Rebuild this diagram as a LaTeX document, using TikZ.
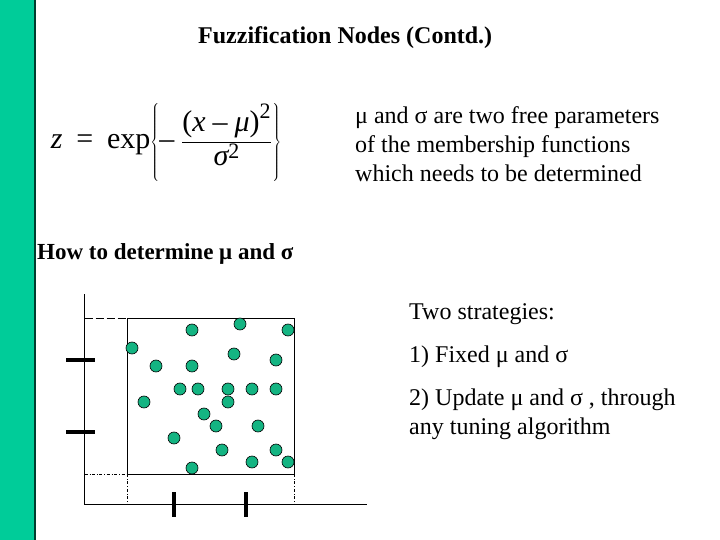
\documentclass[tikz,border=0pt]{standalone}
\usepackage{fontspec}
\setmainfont{Liberation Serif}
\definecolor{gr}{RGB}{0,204,153}
\definecolor{dot}{RGB}{20,180,130}
\newcommand{\iv}[1]{\mbox{\itshape #1}}
\newcommand{\sq}{\mbox{\fontsize{22}{24}\selectfont 2}}
\begin{document}
\begin{tikzpicture}[x=1pt,y=-1pt,
  txt/.style={anchor=west,inner sep=0pt,font=\fontsize{24}{29}\selectfont,align=left},
  pt/.style={circle,fill=dot,draw=black,line width=0.6pt,minimum size=12pt,inner sep=0pt},
  tick/.style={line width=3.5pt}]
\useasboundingbox (0,0) rectangle (720,540);
\fill[gr] (0,0) rectangle (34,540);
\fill[black!70!gr] (34,0) rectangle (36,540);
\node[txt,font=\fontsize{24}{28}\selectfont\bfseries] (title) at (198,38) {Fuzzification Nodes (Contd.)};
\node[inner sep=0pt] (eq) at (166,142) {\fontsize{30}{34}\selectfont$\displaystyle \iv{z}\;\mathrel{\mbox{=}}\;\mbox{exp}\!\left\{\rule[-32pt]{0pt}{78pt}\mbox{--}\;\frac{\mbox{(}\iv{x}\;\mbox{--}\;\iv{μ}\mbox{)}^{\sq}}{\iv{σ}^{\sq}}\right\}$};
\node[txt] (par) at (355,144) {μ and σ are two free parameters\\of the membership functions\\which needs to be determined};
\node[txt,font=\fontsize{23}{24}\selectfont\bfseries] (how) at (37,254) {How to determine μ and σ};
\node[txt] (s0) at (409,314) {Two strategies:};
\node[txt] (s1) at (409,357) {1) Fixed μ and σ};
\node[txt] (s2) at (409,414) {2) Update μ and σ , through\\any tuning algorithm};
\coordinate (o) at (84.5,504);
\coordinate (ytop) at (84.5,294);
\coordinate (xend) at (367,504);
\draw[line width=0.8pt] (ytop) -- (o) -- (xend);
\draw[line width=0.8pt] (127,318) rectangle (294,474);
\draw[dash pattern=on 8pt off 3pt,line width=0.6pt] (84.5,318) -- (127,318);
\draw[dash dot,line width=0.6pt] (84.5,474) -- (127,474);
\draw[dash dot,line width=0.6pt] (127,474) -- (127,504);
\draw[dash dot,line width=0.6pt] (294,474) -- (294,504);
\draw[tick] (66,360) -- (95,360);
\draw[tick] (66,432) -- (95,432);
\draw[tick] (174,492) -- (174,517);
\draw[tick] (246,492) -- (246,517);
\foreach \x/\y [count=\i] in {132/348,192/330,240/324,288/330,234/354,276/360,156/366,192/366,180/389,198/389,228/389,252/389,276/389,144/402,228/402,204/414,216/426,258/426,174/438,222/450,276/450,192/468,252/462,288/462}
  \node[pt] (d\i) at (\x,\y) {};
\end{tikzpicture}
\end{document}
